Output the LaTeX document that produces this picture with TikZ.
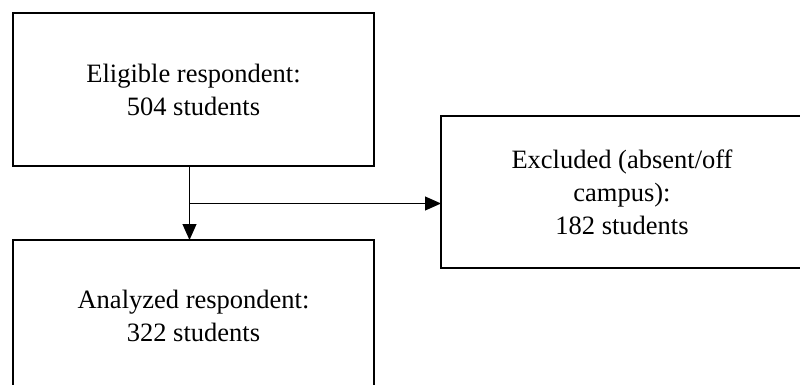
\documentclass[tikz,border=0pt]{standalone}
\usepackage{fontspec}
\setmainfont{Liberation Serif}
\usetikzlibrary{arrows.meta}
\begin{document}
\begin{tikzpicture}[x=1pt,y=-1pt,
  box/.style={draw=black,line width=2.3pt,rectangle,inner sep=0pt,outer sep=0pt,align=center,
    font=\fontsize{26.5}{33}\selectfont},
  conn/.style={draw=black,line width=1pt,-{Triangle[length=16pt,width=14pt]}}]
\useasboundingbox (0,0) rectangle (800,385);
\clip (0,0) rectangle (800,385);
\node[box,minimum width=361pt,minimum height=153pt] (b1) at (193.5,89.5) {Eligible respondent:\\504 students};
\node[box,minimum width=361pt,minimum height=152pt] (b2) at (193.5,316) {Analyzed respondent:\\322 students};
\node[box,minimum width=362pt,minimum height=152pt] (b3) at (622,192) {Excluded (absent/off\\campus):\\182 students};
\coordinate (j) at (189.5,203.5);
\draw[conn] (j |- b1.south) -- (j |- b2.north);
\draw[conn] (j) -- (j -| b3.west);
\end{tikzpicture}
\end{document}
